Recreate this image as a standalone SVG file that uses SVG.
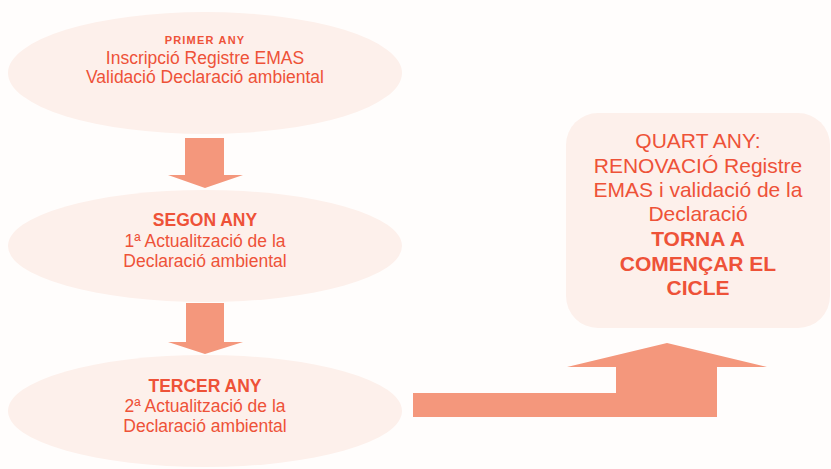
<svg xmlns="http://www.w3.org/2000/svg" width="831" height="469" viewBox="0 0 831 469">
<style>
.node{fill:#FDF0EB}
.arr{fill:#F4977C}
text{font-family:"Liberation Sans",Arial,sans-serif;fill:#EE5238;text-anchor:middle}
.t{font-size:17.5px}
.b{font-weight:bold}
.q{font-size:21px}
</style>
<rect width="831" height="469" fill="#FFFDFC"/>
<g id="connectors">
<polygon class="arr" points="185,138 224,138 224,175 243,175 205,188 168,175 185,175"/>
<polygon class="arr" points="186,303 224,303 224,342 243,342 205,354 168,342 186,342"/>
<polygon class="arr" points="413,393 616,393 616,367 567,367 667,343 767,367 717,367 717,417 413,417"/>
</g>
<g id="primer">
<ellipse class="node" cx="205" cy="73" rx="197" ry="61"/>
<text x="205" y="44" class="b" style="font-size:11px;letter-spacing:1.2px">PRIMER ANY</text>
<text x="205" y="64" class="t">Inscripció Registre EMAS</text>
<text x="205" y="83" class="t">Validació Declaració ambiental</text>
</g>
<g id="segon">
<ellipse class="node" cx="205" cy="246" rx="197" ry="56"/>
<text x="205" y="226" class="t b">SEGON ANY</text>
<text x="205" y="247" class="t">1ª Actualització de la</text>
<text x="205" y="267" class="t">Declaració ambiental</text>
</g>
<g id="tercer">
<ellipse class="node" cx="205" cy="411" rx="197" ry="56"/>
<text x="205" y="392" class="t b">TERCER ANY</text>
<text x="205" y="412" class="t">2ª Actualització de la</text>
<text x="205" y="432" class="t">Declaració ambiental</text>
</g>
<g id="quart">
<rect class="node" x="566" y="113" width="264" height="215" rx="32"/>
<text x="698" y="148" class="q">QUART ANY:</text>
<text x="698" y="173" class="q">RENOVACIÓ Registre</text>
<text x="698" y="197" class="q">EMAS i validació de la</text>
<text x="698" y="221" class="q">Declaració</text>
<text x="698" y="246" class="q b">TORNA A</text>
<text x="698" y="271" class="q b">COMENÇAR EL</text>
<text x="698" y="295" class="q b">CICLE</text>
</g>
</svg>
